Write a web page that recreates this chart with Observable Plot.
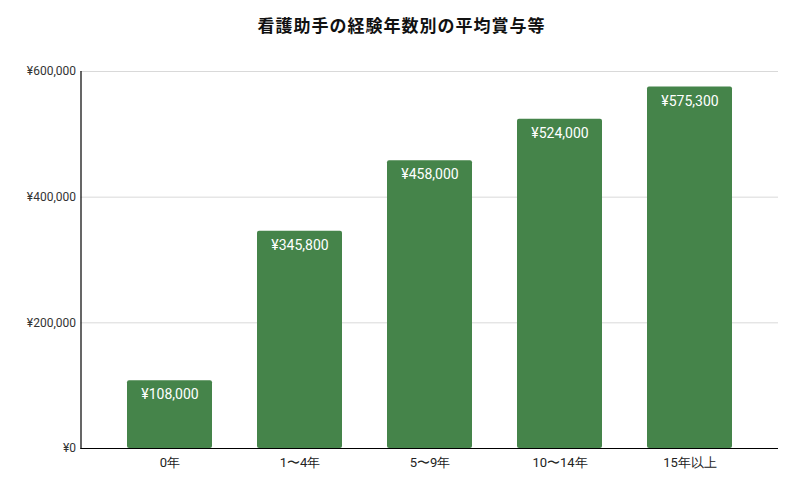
<!DOCTYPE html>
<html>
<head>
<meta charset="utf-8">
<script src="https://cdn.jsdelivr.net/npm/d3@7"></script>
<script src="https://cdn.jsdelivr.net/npm/@observablehq/plot@0.6"></script>
<style>
  html, body { margin: 0; padding: 0; background: #fff; }
  #title { height: 50px; line-height: 50px; text-align: center; font-family: "Noto Sans CJK JP", sans-serif; font-weight: bold; font-size: 17px; color: #111; letter-spacing: 1px; width: 803px; }
</style>
</head>
<body>
<div id="title">看護助手の経験年数別の平均賞与等</div>
<div id="chart"></div>
<script>
const categories = ["0年", "1〜4年", "5〜9年", "10〜14年", "15年以上"];
const values = [108000, 345800, 458000, 524000, 575300];
const yTicks = [0, 200000, 400000, 600000];

const data = categories.map((c, i) => ({category: c, value: values[i]}));
const yen = v => "¥" + d3.format(",")(v);

const chart = Plot.plot({
  width: 803,
  height: 447,
  marginTop: 21,
  marginBottom: 49,
  marginLeft: 80.5,
  marginRight: 25,
  style: {fontFamily: "Roboto, sans-serif", background: "#fff"},
  x: {domain: categories, padding: 0.35, label: null},
  y: {domain: [0, 600000], label: null},
  marks: [
    Plot.gridY(yTicks, {stroke: "#d9d9d9", strokeOpacity: 1}),
    Plot.barY(data, {x: "category", y: "value", fill: "#45844a", rx: 2}),
    Plot.text(data, {x: "category", y: "value", text: d => yen(d.value), dy: 14, fill: "#fff", fontSize: 14}),
    Plot.axisY(yTicks, {tickSize: 0, tickPadding: 5, tickFormat: yen, fontSize: 12, fill: "#333", label: null}),
    Plot.axisX({tickSize: 0, tickPadding: 9, fontSize: 13, fill: "#222", label: null}),
    Plot.ruleY([0], {stroke: "#000", strokeWidth: 1.2}),
    Plot.frame({anchor: "left", stroke: "#000", strokeWidth: 1.2})
  ]
});
document.getElementById("chart").appendChild(chart);
</script>
</body>
</html>
